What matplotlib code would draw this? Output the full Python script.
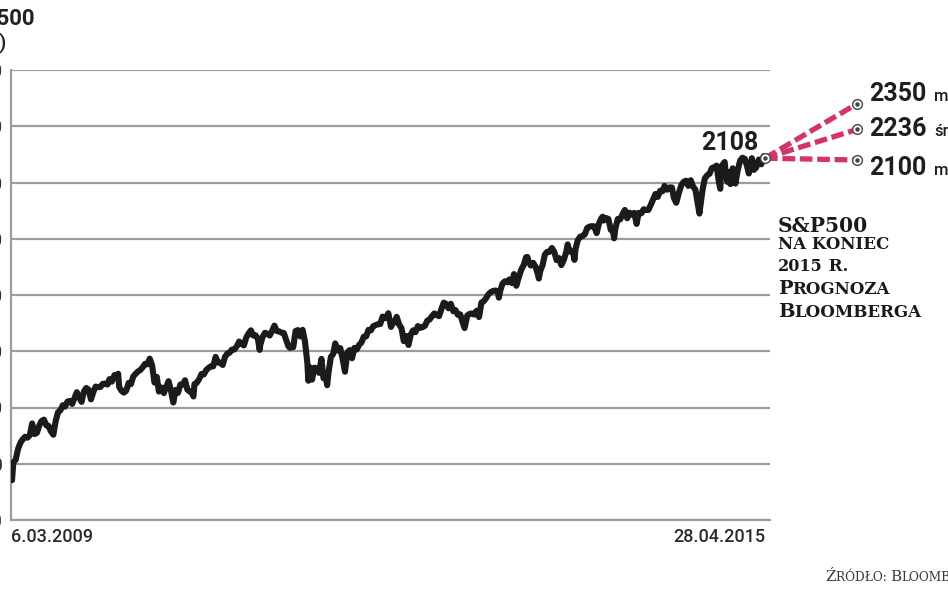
import matplotlib
matplotlib.use("Agg")
import matplotlib.pyplot as plt
import matplotlib.dates as mdates
import pandas as pd

W, H = 948, 593

# ---------------- data ----------------
dates = [
    "2009-03-06", "2009-03-09", "2009-03-13", "2009-03-20", "2009-03-27", "2009-04-03", "2009-04-09", "2009-04-17",
    "2009-04-24", "2009-05-01", "2009-05-08", "2009-05-15", "2009-05-22", "2009-05-29", "2009-06-05", "2009-06-12",
    "2009-06-19", "2009-06-26", "2009-07-02", "2009-07-10", "2009-07-17", "2009-07-24", "2009-07-31", "2009-08-07",
    "2009-08-14", "2009-08-21", "2009-08-28", "2009-09-04", "2009-09-11", "2009-09-18", "2009-09-25", "2009-10-02",
    "2009-10-09", "2009-10-16", "2009-10-23", "2009-10-30", "2009-11-06", "2009-11-13", "2009-11-20", "2009-11-27",
    "2009-12-04", "2009-12-11", "2009-12-18", "2009-12-24", "2009-12-31",
    "2010-01-08", "2010-01-15", "2010-01-19", "2010-01-22", "2010-01-29", "2010-02-05", "2010-02-12", "2010-02-19",
    "2010-02-26", "2010-03-05", "2010-03-12", "2010-03-19", "2010-03-26", "2010-04-02", "2010-04-09", "2010-04-16",
    "2010-04-23", "2010-04-30", "2010-05-07", "2010-05-14", "2010-05-20", "2010-05-28", "2010-06-04", "2010-06-11",
    "2010-06-18", "2010-06-25", "2010-07-02", "2010-07-09", "2010-07-16", "2010-07-23", "2010-07-30", "2010-08-06",
    "2010-08-13", "2010-08-20", "2010-08-27", "2010-08-31", "2010-09-03", "2010-09-10", "2010-09-17", "2010-09-24",
    "2010-10-01", "2010-10-08", "2010-10-15", "2010-10-22", "2010-10-29", "2010-11-05", "2010-11-12", "2010-11-19",
    "2010-11-26", "2010-12-03", "2010-12-10", "2010-12-17", "2010-12-23", "2010-12-31",
    "2011-01-07", "2011-01-14", "2011-01-21", "2011-01-28", "2011-02-04", "2011-02-11", "2011-02-18", "2011-02-25",
    "2011-03-04", "2011-03-11", "2011-03-16", "2011-03-18", "2011-03-25", "2011-04-01", "2011-04-08", "2011-04-15",
    "2011-04-21", "2011-04-29", "2011-05-06", "2011-05-13", "2011-05-20", "2011-05-27", "2011-06-03", "2011-06-10",
    "2011-06-15", "2011-06-17", "2011-06-24", "2011-07-01", "2011-07-08", "2011-07-15", "2011-07-22", "2011-07-29",
    "2011-08-05", "2011-08-08", "2011-08-12", "2011-08-19", "2011-08-26", "2011-09-02", "2011-09-09", "2011-09-16",
    "2011-09-22", "2011-09-30", "2011-10-03", "2011-10-07", "2011-10-14", "2011-10-21", "2011-10-27", "2011-11-04",
    "2011-11-11", "2011-11-18", "2011-11-25", "2011-12-02", "2011-12-09", "2011-12-16", "2011-12-23", "2011-12-30",
    "2012-01-06", "2012-01-13", "2012-01-20", "2012-01-27", "2012-02-03", "2012-02-10", "2012-02-17", "2012-02-24",
    "2012-03-02", "2012-03-09", "2012-03-16", "2012-03-23", "2012-03-30", "2012-04-02", "2012-04-10", "2012-04-13",
    "2012-04-20", "2012-04-27", "2012-05-04", "2012-05-11", "2012-05-18", "2012-05-25", "2012-06-01", "2012-06-08",
    "2012-06-15", "2012-06-22", "2012-06-29", "2012-07-06", "2012-07-13", "2012-07-20", "2012-07-27", "2012-08-03",
    "2012-08-10", "2012-08-17", "2012-08-24", "2012-08-31", "2012-09-07", "2012-09-14", "2012-09-21", "2012-09-28",
    "2012-10-05", "2012-10-12", "2012-10-19", "2012-10-26", "2012-11-02", "2012-11-09", "2012-11-15", "2012-11-23",
    "2012-11-30", "2012-12-07", "2012-12-14", "2012-12-21", "2012-12-28",
    "2013-01-04", "2013-01-11", "2013-01-18", "2013-01-25", "2013-02-01", "2013-02-08", "2013-02-15", "2013-02-22",
    "2013-02-25", "2013-03-01", "2013-03-08", "2013-03-15", "2013-03-22", "2013-03-28", "2013-04-05", "2013-04-11",
    "2013-04-18", "2013-04-26", "2013-05-03", "2013-05-10", "2013-05-17", "2013-05-21", "2013-05-24", "2013-05-31",
    "2013-06-07", "2013-06-14", "2013-06-21", "2013-06-24", "2013-06-28", "2013-07-05", "2013-07-12", "2013-07-19",
    "2013-07-26", "2013-08-02", "2013-08-09", "2013-08-16", "2013-08-23", "2013-08-30", "2013-09-06", "2013-09-13",
    "2013-09-18", "2013-09-20", "2013-09-27", "2013-10-04", "2013-10-08", "2013-10-11", "2013-10-18", "2013-10-25",
    "2013-11-01", "2013-11-08", "2013-11-15", "2013-11-22", "2013-11-29", "2013-12-06", "2013-12-13", "2013-12-20",
    "2013-12-27", "2013-12-31",
    "2014-01-03", "2014-01-10", "2014-01-17", "2014-01-24", "2014-01-31", "2014-02-03", "2014-02-07", "2014-02-14",
    "2014-02-21", "2014-02-28", "2014-03-07", "2014-03-14", "2014-03-21", "2014-03-28", "2014-04-04", "2014-04-11",
    "2014-04-17", "2014-04-25", "2014-05-02", "2014-05-09", "2014-05-16", "2014-05-23", "2014-05-30", "2014-06-06",
    "2014-06-13", "2014-06-20", "2014-06-27", "2014-07-03", "2014-07-11", "2014-07-18", "2014-07-25", "2014-07-31",
    "2014-08-07", "2014-08-15", "2014-08-22", "2014-08-29", "2014-09-05", "2014-09-12", "2014-09-19", "2014-09-26",
    "2014-10-03", "2014-10-10", "2014-10-15", "2014-10-17", "2014-10-24", "2014-10-31", "2014-11-07", "2014-11-14",
    "2014-11-21", "2014-11-28", "2014-12-05", "2014-12-12", "2014-12-16", "2014-12-19", "2014-12-29", "2014-12-31",
    "2015-01-06", "2015-01-09", "2015-01-15", "2015-01-22", "2015-01-30", "2015-02-06", "2015-02-13", "2015-02-20",
    "2015-02-27", "2015-03-06", "2015-03-11", "2015-03-13", "2015-03-20", "2015-03-26", "2015-04-02", "2015-04-10",
    "2015-04-17", "2015-04-24", "2015-04-28",
]
values = [
    683, 677, 756, 768, 816, 843, 857, 870,
    866, 877, 929, 882, 887, 919, 940, 946,
    921, 918, 896, 879, 940, 979, 987, 1010,
    1004, 1026, 1029, 1016, 1042, 1068, 1044, 1025,
    1071, 1087, 1079, 1036, 1069, 1093, 1091, 1091,
    1105, 1106, 1102, 1126, 1115,
    1144, 1136, 1150, 1091, 1074, 1066, 1075, 1109,
    1104, 1138, 1150, 1160, 1167, 1179, 1194, 1192,
    1217, 1187, 1111, 1136, 1071, 1089, 1064, 1092,
    1117, 1076, 1022, 1078, 1065, 1102, 1102, 1121,
    1079, 1071, 1065, 1049, 1104, 1110, 1126, 1149,
    1147, 1166, 1176, 1183, 1183, 1225, 1200, 1199,
    1189, 1225, 1240, 1244, 1257, 1258,
    1272, 1293, 1283, 1276, 1310, 1329, 1343, 1320,
    1321, 1304, 1256, 1279, 1314, 1332, 1328, 1320,
    1337, 1364, 1340, 1338, 1333, 1331, 1300, 1271,
    1265, 1271, 1268, 1340, 1344, 1316, 1345, 1292,
    1199, 1119, 1179, 1124, 1177, 1174, 1154, 1216,
    1130, 1131, 1099, 1155, 1225, 1238, 1285, 1253,
    1264, 1216, 1159, 1244, 1255, 1219, 1265, 1258,
    1278, 1289, 1315, 1316, 1345, 1343, 1361, 1366,
    1370, 1371, 1404, 1397, 1408, 1419, 1358, 1370,
    1378, 1403, 1369, 1353, 1295, 1318, 1278, 1325,
    1343, 1335, 1362, 1354, 1357, 1363, 1386, 1391,
    1406, 1418, 1411, 1406, 1438, 1466, 1460, 1441,
    1461, 1428, 1433, 1412, 1414, 1380, 1353, 1409,
    1416, 1418, 1413, 1430, 1402,
    1466, 1472, 1486, 1503, 1513, 1518, 1520, 1516,
    1488, 1518, 1551, 1561, 1556, 1569, 1553, 1593,
    1541, 1582, 1614, 1633, 1668, 1669, 1650, 1631,
    1643, 1626, 1593, 1573, 1606, 1632, 1680, 1692,
    1692, 1709, 1691, 1655, 1664, 1633, 1655, 1688,
    1725, 1710, 1692, 1690, 1656, 1703, 1744, 1759,
    1762, 1770, 1798, 1804, 1806, 1805, 1775, 1818,
    1841, 1848,
    1831, 1842, 1838, 1790, 1783, 1752, 1797, 1838,
    1836, 1859, 1878, 1841, 1866, 1857, 1865, 1816,
    1865, 1863, 1881, 1878, 1878, 1900, 1924, 1949,
    1936, 1963, 1961, 1985, 1968, 1978, 1978, 1931,
    1910, 1955, 1988, 2003, 2008, 1985, 2010, 1982,
    1968, 1906, 1862, 1887, 1965, 2018, 2032, 2039,
    2064, 2068, 2075, 2002, 1972, 2071, 2091, 2059,
    2003, 2045, 1993, 2063, 1995, 2055, 2097, 2110,
    2105, 2071, 2040, 2053, 2108, 2056, 2067, 2102,
    2081, 2117, 2108,
]

forecast_date = "2016-01-27"
forecast_values = [2350, 2236, 2100]
forecast_names = ["maks.", "średnia", "min."]
last_value_label = "2108"
yticks = [500, 750, 1000, 1250, 1500, 1750, 2000, 2250, 2500]
start_label = "6.03.2009"
end_label = "28.04.2015"
title_lines = ["S&P500", "(pkt)"]
source_parts = [("Ź", "big"), ("RÓDŁO: ", "small"), ("B", "big"), ("LOOMBERG", "small")]
note_lines = [
    [("S&P500", "head")],
    [("NA KONIEC", "small")],
    [("2015", "digits"), (" R.", "small")],
    [("P", "cap"), ("ROGNOZA", "small")],
    [("B", "cap"), ("LOOMBERGA", "small")],
]

# ---------------- figure ----------------
d = pd.to_datetime(dates)
fig = plt.figure(figsize=(W / 100, H / 100), dpi=100)
ax = fig.add_axes([11 / W, 73 / H, 759 / W, 450 / H])
ax.set_xlim(d[0], pd.Timestamp("2015-05-13"))
ax.set_ylim(500, 2500)

grid_c = "#9c9c9c"
ax.set_yticks(yticks)
ax.set_yticklabels([str(v) for v in yticks])
ax.tick_params(axis="y", length=0, pad=6, labelsize=13, labelcolor="#333333")
ax.set_xticks([d[0], d[-1]])
ax.set_xticklabels([start_label, end_label])
ax.tick_params(axis="x", length=0, pad=6, labelsize=13, labelcolor="#2b2b2b")
xl = ax.get_xticklabels()
xl[0].set_ha("left")
xl[1].set_ha("right")
for lbl in ax.get_xticklabels() + ax.get_yticklabels():
    lbl.set_fontfamily("Roboto")
    lbl.set_fontweight("medium")

ax.grid(axis="y", color=grid_c, lw=1.6)
ax.grid(axis="x", visible=False)
ax.set_axisbelow(True)
for s in ["top", "right"]:
    ax.spines[s].set_visible(False)
for s in ["left", "bottom"]:
    ax.spines[s].set_color(grid_c)
    ax.spines[s].set_linewidth(1.6)

ax.plot(d, values, color="#1b1b1b", lw=4.4, solid_joinstyle="round",
        solid_capstyle="round", zorder=3)

fd = pd.Timestamp(forecast_date)
pink = "#d6336c"
for fv in forecast_values:
    ax.plot([d[-1], fd], [values[-1], fv], color=pink, lw=3.8,
            dashes=(2.4, 0.9), clip_on=False, zorder=4)


def ring(x, y):
    ax.plot([x], [y], marker="o", ms=7, mfc="white", mec="#444444", mew=1.0,
            clip_on=False, zorder=6)
    ax.plot([x], [y], marker="o", ms=2.2, color="#444444", clip_on=False, zorder=7)


ring(d[-1], values[-1])
for fv in forecast_values:
    ring(fd, fv)

fig.canvas.draw()
renderer = fig.canvas.get_renderer()


def put_parts(x, y, parts, sizes, **kw):
    """Draw text pieces of different sizes on a shared baseline (pixel coords, y from top)."""
    cx = x
    for txt, key in parts:
        t = fig.text(cx / W, (H - y) / H, txt, fontsize=sizes[key], ha="left",
                     va="baseline", **kw)
        cx += t.get_window_extent(renderer=renderer).width
    return cx


def to_px(xd, yv):
    px, py = ax.transData.transform((mdates.date2num(xd), yv))
    return px, H - py


# forecast labels
label_shift = [-3, 7, 15]
for fv, name, sh in zip(forecast_values, forecast_names, label_shift):
    px, py = to_px(fd, fv)
    t = fig.text((px + 12) / W, (H - (py + sh)) / H, str(fv), fontsize=18,
                 fontfamily="Roboto", fontweight="bold", color="#1e1e1e",
                 ha="left", va="baseline")
    w = t.get_window_extent(renderer=renderer).width
    fig.text((px + 12 + w + 8) / W, (H - (py + sh)) / H, name, fontsize=12,
             fontfamily="Roboto", fontweight="medium", color="#1e1e1e",
             ha="left", va="baseline")

# last value label
ex, ey = to_px(d[-1], values[-1])
fig.text((ex - 7) / W, (H - (ey - 8)) / H, last_value_label, fontsize=18,
         fontfamily="Roboto", fontweight="bold", color="#1e1e1e",
         ha="right", va="baseline")

# note block
note_sizes = {"head": 14.5, "digits": 11.5, "cap": 14, "small": 12}
baselines = [232, 249, 271, 294, 317]
for parts, yb in zip(note_lines, baselines):
    put_parts(778, yb, parts, note_sizes, fontfamily="DejaVu Serif",
              fontweight="bold", color="#1a1a1a")

# source
put_parts(825, 581, source_parts, {"big": 11, "small": 8.8},
          fontfamily="DejaVu Serif", color="#3a3a3a")

# title (cropped at the left edge, as in the reference)
fig.text(35 / W, (H - 25) / H, title_lines[0], fontsize=16, fontfamily="Roboto",
         fontweight="bold", color="#222222", ha="right", va="baseline")
fig.text(7 / W, (H - 48) / H, title_lines[1], fontsize=15, fontfamily="Roboto",
         fontweight="medium", color="#222222", ha="right", va="baseline")

fig.savefig("out.png", dpi=100)
